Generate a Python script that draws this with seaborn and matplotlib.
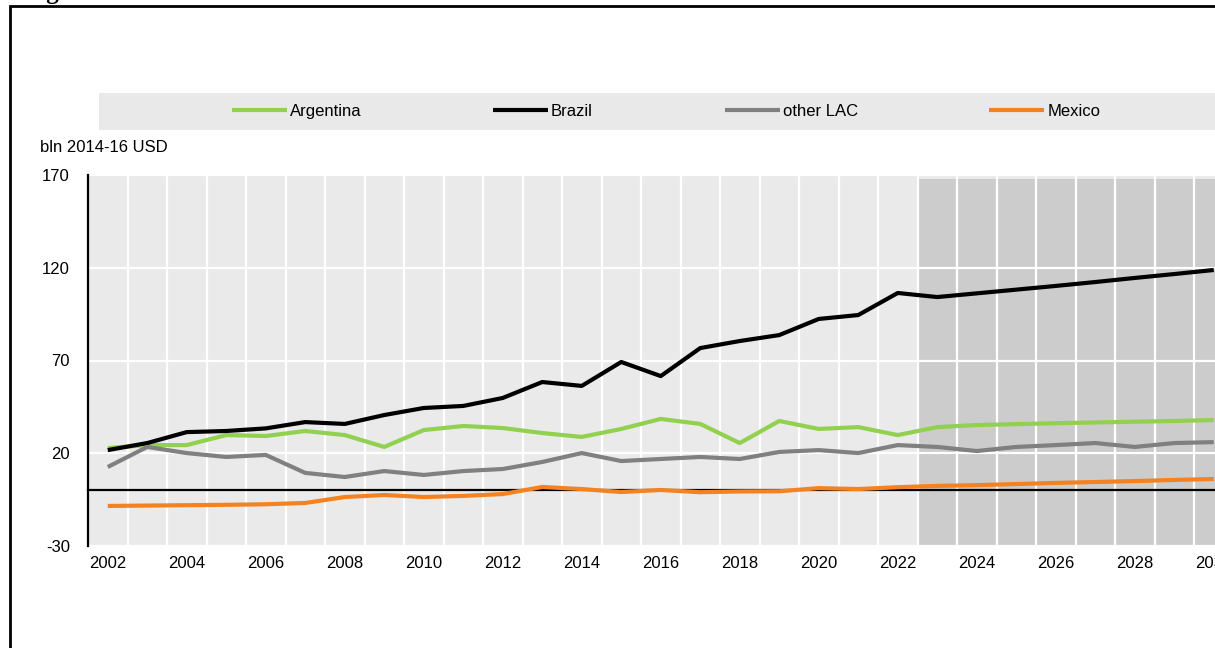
import pandas as pd
import matplotlib.pyplot as plt
import seaborn as sns
from matplotlib.patches import Rectangle

# values (bln 2014-16 USD)
years = list(range(2002, 2031))
argentina = [22.8, 24.4, 24.4, 29.8, 29.3, 32.0, 29.8, 23.4, 32.5, 34.7,
             33.6, 30.9, 28.8, 33.1, 38.5, 35.8, 25.5, 37.4, 33.1, 34.1,
             29.8, 34.1, 35.2, 35.7, 36.2, 36.6, 37.0, 37.4, 37.9]
brazil = [21.7, 25.5, 31.4, 32.0, 33.4, 36.8, 35.8, 40.6, 44.4, 45.5,
          49.8, 58.4, 56.3, 69.2, 61.6, 76.7, 80.5, 83.7, 92.4, 94.5,
          106.4, 104.2, 106.2, 108.2, 110.2, 112.3, 114.5, 116.6, 118.8]
other_lac = [12.6, 23.4, 20.1, 18.0, 19.1, 9.4, 7.2, 10.4, 8.3, 10.4,
             11.5, 15.3, 20.1, 15.8, 16.9, 18.0, 16.9, 20.7, 21.7, 20.1,
             24.4, 23.4, 21.2, 23.4, 24.4, 25.5, 23.4, 25.5, 26.0]
mexico = [-8.4, -8.2, -8.0, -7.8, -7.5, -6.8, -3.6, -2.5, -3.6, -3.0,
          -2.0, 1.8, 0.7, -0.9, 0.2, -1.0, -0.6, -0.5, 1.2, 0.7,
          1.7, 2.4, 2.8, 3.4, 4.0, 4.5, 5.0, 5.6, 6.1]
series_names = ['Argentina', 'Brazil', 'other LAC', 'Mexico']
colors = {'Argentina': '#92D050', 'Brazil': '#000000',
          'other LAC': '#808080', 'Mexico': '#F58220'}
y_ticks = [-30, 20, 70, 120, 170]
label_years = list(range(2002, 2033, 2))
projection_start = 2023

frames = []
for name, vals in zip(series_names, [argentina, brazil, other_lac, mexico]):
    frames.append(pd.DataFrame({'year': years, 'value': vals, 'series': name}))
df = pd.concat(frames)

sns.set_style('white')
plt.rcParams['font.family'] = ['Liberation Sans', 'DejaVu Sans']
plt.rcParams['axes.unicode_minus'] = False
plt.rcParams['text.color'] = 'black'
plt.rcParams['xtick.color'] = 'black'
plt.rcParams['ytick.color'] = 'black'

fig = plt.figure(figsize=(12.15, 6.48), dpi=100)
ax = fig.add_axes([88 / 1215, 1 - 546 / 648, 31 * 39.5 / 1215, 371 / 648])
ax.set_facecolor('#EAEAEA')

sns.lineplot(data=df, x='year', y='value', hue='series', hue_order=series_names,
             palette=colors, linewidth=3, ax=ax)
for ln in ax.lines:
    ln.set_zorder(3)
    ln.set_solid_capstyle('butt')

handles, labels = ax.get_legend_handles_labels()
ax.get_legend().remove()

# projection period shading
ax.axvspan(projection_start - 0.5, 2032.5, ymin=0, ymax=0.989,
           color='#CCCCCC', zorder=0.3, lw=0)

ax.set_xlim(2001.5, 2032.5)
ax.set_ylim(-30, 170)
ax.set_yticks(y_ticks)
ax.set_xticks([y + 0.5 for y in range(2002, 2032)])
ax.set_xticklabels([])
ax.set_xlabel('')
ax.set_ylabel('')
ax.set_axisbelow(True)
ax.grid(True, color='white', linewidth=1.6)

for s in ['top', 'right']:
    ax.spines[s].set_visible(False)
ax.spines['bottom'].set_position(('data', 0))
ax.spines['bottom'].set_color('black')
ax.spines['bottom'].set_linewidth(1.6)
ax.spines['bottom'].set_zorder(2.5)
ax.spines['left'].set_color('black')
ax.spines['left'].set_linewidth(1.6)
ax.tick_params(axis='x', direction='in', length=5, width=1.6, color='black')
ax.tick_params(axis='y', direction='in', length=5, width=1.6, color='black',
               labelcolor='black', labelsize=12, pad=13)

# year labels along the bottom edge
sec = ax.secondary_xaxis('bottom')
sec.set_xticks(label_years)
sec.set_xticklabels([str(y) for y in label_years])
sec.tick_params(length=0, labelsize=12, pad=7, labelcolor='black')
sec.spines['bottom'].set_visible(False)

# legend band
fig.add_artist(Rectangle((99 / 1215, 1 - 130 / 648), 1.0, 37 / 648,
                         transform=fig.transFigure, facecolor='#E9E9E9',
                         edgecolor='none', zorder=0))
leg = fig.legend(handles, labels, ncol=4, loc='center',
                 bbox_to_anchor=(666 / 1215, 1 - 111.5 / 648), frameon=False,
                 fontsize=12, handlelength=3.3, handletextpad=0.18,
                 columnspacing=7.9, labelcolor='black')
for h in leg.get_lines():
    h.set_linewidth(3)

fig.text(40 / 1215, 1 - 147 / 648, 'bln 2014-16 USD', fontsize=12,
         va='center', color='black')

# figure frame and cropped title
fig.add_artist(Rectangle((10 / 1215, -0.05), 1.1, 1 - 6 / 648 + 0.05,
                         transform=fig.transFigure, fill=False,
                         edgecolor='black', linewidth=2))
fig.text(25 / 1215, 1 + 1 / 648, 'Figure', fontsize=18, fontweight='bold',
         family='Liberation Serif', va='baseline', color='black')

fig.savefig('out.png', dpi=100)
